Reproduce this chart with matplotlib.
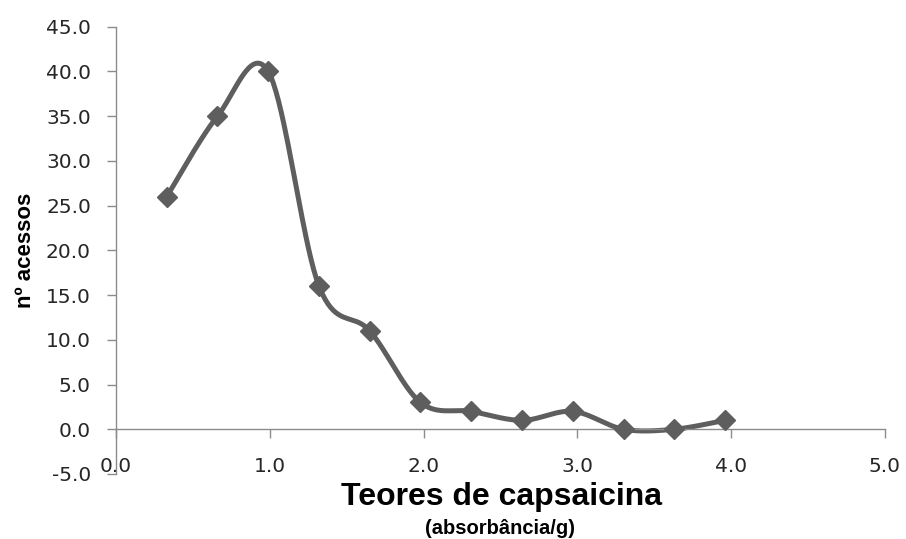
import numpy as np
import matplotlib
matplotlib.use("Agg")
import matplotlib.pyplot as plt

# Data
x_vals = [0.33, 0.66, 0.99, 1.32, 1.65, 1.98, 2.31, 2.64, 2.97, 3.30, 3.63, 3.96]
y_vals = [26.0, 35.0, 40.0, 16.0, 11.0, 3.0, 2.0, 1.0, 2.0, 0.0, 0.0, 1.0]
x_ticks = [0.0, 1.0, 2.0, 3.0, 4.0, 5.0]
y_ticks = [-5.0, 0.0, 5.0, 10.0, 15.0, 20.0, 25.0, 30.0, 35.0, 40.0, 45.0]
x_title = "Teores de capsaicina"
x_subtitle = "(absorbância/g)"
y_title = "nº acessos"


def smooth_curve(xs, ys, n=40):
    """Excel-like smoothed line: cubic Bezier with Catmull-Rom control points."""
    P = np.column_stack([xs, ys]).astype(float)
    out = []
    m = len(P)
    for i in range(m - 1):
        p0 = P[i - 1] if i > 0 else P[i]
        p1 = P[i]
        p2 = P[i + 1]
        p3 = P[i + 2] if i + 2 < m else P[i + 1]
        c1 = p1 + (p2 - p0) / 6.0
        c2 = p2 - (p3 - p1) / 6.0
        t = np.linspace(0, 1, n)[:, None]
        seg = ((1 - t) ** 3) * p1 + 3 * ((1 - t) ** 2) * t * c1 + 3 * (1 - t) * t ** 2 * c2 + t ** 3 * p2
        out.append(seg if i == 0 else seg[1:])
    out = np.vstack(out)
    return out[:, 0], out[:, 1]


fig = plt.figure(figsize=(9.06, 5.39), dpi=100)
ax = fig.add_axes([0.128, 0.1206, 0.8488, 0.8299])

line_color = "#5e5e5e"
sx, sy = smooth_curve(x_vals, y_vals)
ax.plot(sx, sy, color=line_color, lw=3.6, solid_capstyle="round", zorder=2)
ax.plot(x_vals, y_vals, linestyle="none", marker="D", ms=10.5,
        color=line_color, mec=line_color, zorder=3)

ax.set_xlim(0, 5)
ax.set_ylim(-5, 45)
ax.set_xticks(x_ticks)
ax.set_yticks(y_ticks)
ax.set_xticklabels([f"{v:.1f}" for v in x_ticks])
ax.set_yticklabels([f"{v:.1f}" for v in y_ticks])

axis_color = "#8c8c8c"
for s in ["top", "right"]:
    ax.spines[s].set_visible(False)
ax.spines["bottom"].set_position(("data", 0))
ax.spines["left"].set_position(("data", 0))
for s in ["bottom", "left"]:
    ax.spines[s].set_color(axis_color)
    ax.spines[s].set_linewidth(1.0)

ax.tick_params(axis="both", direction="out", length=6.5, width=1.0,
               color=axis_color, labelsize=14.5, labelcolor="#262626")
ax.tick_params(axis="x", pad=13.5)
ax.tick_params(axis="y", pad=11.5)

ax.set_xlabel(x_title, fontsize=23, fontweight="bold", family="Liberation Sans",
              va="center")
ax.xaxis.set_label_coords(0.501, -0.052)
ax.text(0.499, -0.122, x_subtitle, transform=ax.transAxes, fontsize=14.5,
        fontweight="bold", family="Liberation Sans", ha="center", va="center")

ax.set_ylabel(y_title, fontsize=16, fontweight="bold", family="Liberation Sans",
              va="center")
ax.yaxis.set_label_coords(-0.118, 0.5)

fig.savefig("out.png", dpi=100)
